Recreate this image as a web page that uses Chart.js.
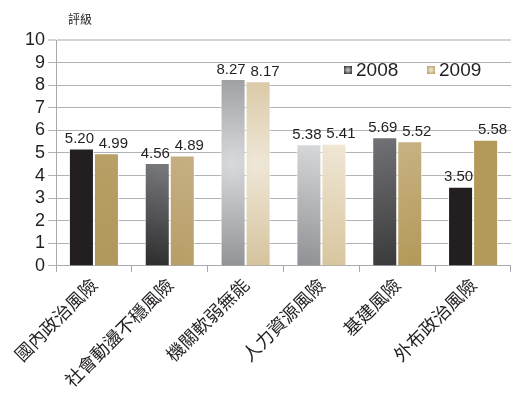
<!DOCTYPE html>
<html>
<head>
<meta charset="utf-8">
<script src="https://cdn.jsdelivr.net/npm/chart.js@4"></script>
<style>
  html, body { margin: 0; padding: 0; background: #fff; }
  #wrap { width: 511px; height: 393px; position: relative; }
</style>
</head>
<body>
<div id="wrap"><canvas id="riskChart" width="511" height="393"></canvas></div>
<script>
const categories = ['國內政治風險', '社會動盪不穩風險', '機關軟弱無能', '人力資源風險', '基建風險', '外布政治風險'];
const seriesNames = ['2008', '2009'];
const values2008 = [5.20, 4.56, 8.27, 5.38, 5.69, 3.50];
const values2009 = [4.99, 4.89, 8.17, 5.41, 5.52, 5.58];
const yTicks = [0, 1, 2, 3, 4, 5, 6, 7, 8, 9, 10];
const yTitle = '評級';

// bar fills, one per category
const fills2008 = [
    { solid: '#231f20' },
    { from: '#2c2c2d', to: '#7a7b7e' },
    { edge: '#8b8d90', center: '#d9dadc' },
    { from: '#8e9093', to: '#d8d9db' },
    { from: '#3a3a3c', to: '#717275', flip: true },
    { solid: '#231f20' }
];
const fills2009 = [
    { from: '#b0975a', to: '#b8a066' },
    { from: '#b79e67', to: '#c6b083' },
    { edge: '#d3c098', center: '#efe7d7' },
    { from: '#d8c59d', to: '#f0e7d6' },
    { from: '#b29958', to: '#c8b283', flip: true },
    { solid: '#b39a5a' }
];

const catPct = 0.66;
const cjk = "'Noto Sans CJK TC', 'Noto Sans CJK SC', sans-serif";
const latin = "'Liberation Sans', Arial, sans-serif";

const barFill = (c, fills) => {
    const spec = fills[c.dataIndex];
    if (spec.solid) return spec.solid;
    const fallback = spec.from || spec.edge;
    const chart = c.chart;
    const xs = chart.scales.x, ys = chart.scales.y;
    if (!xs || !ys || !isFinite(xs.left) || !isFinite(ys.top)) return fallback;
    const cw = (xs.right - xs.left) / categories.length * catPct;
    const cx = xs.getPixelForValue(c.dataIndex);
    const left = cx - cw / 2 + c.datasetIndex * cw / 2;
    const right = left + cw / 2;
    const top = ys.getPixelForValue(c.raw);
    const bottom = ys.getPixelForValue(0);
    if (!isFinite(left) || !isFinite(top)) return fallback;
    const g2 = chart.ctx;
    if (spec.edge) {
        const mx = (left + right) / 2, my = top + (bottom - top) * 0.45;
        const r = (bottom - top) * 0.6;
        const g = g2.createRadialGradient(mx, my, 0, mx, my, r);
        g.addColorStop(0, spec.center);
        g.addColorStop(1, spec.edge);
        return g;
    }
    const g = spec.flip
        ? g2.createLinearGradient(right, bottom, left, top)
        : g2.createLinearGradient(left, bottom, right, top);
    g.addColorStop(0, spec.from);
    g.addColorStop(1, spec.to);
    return g;
};

const extrasPlugin = {
    id: 'extras',
    afterDatasetsDraw(chart) {
        const ctx = chart.ctx;
        const shift = [-2, 7];
        ctx.save();
        ctx.fillStyle = '#231f20';
        ctx.font = '15px ' + latin;
        ctx.textAlign = 'center';
        ctx.textBaseline = 'bottom';
        chart.data.datasets.forEach((ds, di) => {
            chart.getDatasetMeta(di).data.forEach((bar, i) => {
                ctx.fillText(ds.data[i].toFixed(2), bar.x + shift[di], bar.y - 2);
            });
        });
        ctx.restore();
    },
    afterDraw(chart) {
        const ctx = chart.ctx;
        ctx.save();
        // axis title
        ctx.fillStyle = '#231f20';
        ctx.font = '12px ' + cjk;
        ctx.textAlign = 'center';
        ctx.textBaseline = 'middle';
        ctx.fillText(yTitle, 80, 19);
        // legend
        const legendX = [344, 427];
        const swatch = ['#231f20', '#b39a5a'];
        const light = ['#d0d0d0', '#f2ead8'];
        ctx.font = '19px ' + latin;
        ctx.textAlign = 'left';
        chart.data.datasets.forEach((ds, di) => {
            const x = legendX[di], y = 70;
            const g = ctx.createRadialGradient(x + 4, y, 0, x + 4, y, 5.5);
            g.addColorStop(0, light[di]);
            g.addColorStop(1, swatch[di]);
            ctx.fillStyle = g;
            ctx.fillRect(x, y - 4, 8, 8);
            ctx.fillStyle = '#231f20';
            ctx.fillText(ds.label, x + 12, y + 1);
        });
        ctx.restore();
    }
};

new Chart(document.getElementById('riskChart'), {
    type: 'bar',
    data: {
        labels: categories,
        datasets: [
            {
                label: seriesNames[0],
                data: values2008,
                backgroundColor: (c) => barFill(c, fills2008),
                borderColor: 'rgba(255,255,255,0.8)',
                borderWidth: 1,
                categoryPercentage: catPct,
                barPercentage: 1
            },
            {
                label: seriesNames[1],
                data: values2009,
                backgroundColor: (c) => barFill(c, fills2009),
                borderColor: 'rgba(255,255,255,0.8)',
                borderWidth: 1,
                categoryPercentage: catPct,
                barPercentage: 1
            }
        ]
    },
    options: {
        responsive: false,
        animation: false,
        layout: { padding: { top: 40, left: 22, right: 0, bottom: 0 } },
        plugins: {
            legend: { display: false },
            tooltip: { enabled: false }
        },
        scales: {
            x: {
                grid: { offset: true, drawOnChartArea: false, tickLength: 6, color: '#a7a9ac' },
                border: { color: '#a7a9ac', width: 1 },
                ticks: {
                    maxRotation: 45,
                    minRotation: 45,
                    color: '#231f20',
                    padding: 2,
                    font: { family: cjk, size: 18 }
                }
            },
            y: {
                min: 0,
                max: 10,
                afterBuildTicks: (scale) => { scale.ticks = yTicks.map(v => ({ value: v })); },
                grid: {
                    color: (c) => c.tick && c.tick.value === 10 ? '#d4d4d4' : '#b1b3b6',
                    lineWidth: (c) => c.tick && c.tick.value === 10 ? 2 : 1,
                    tickLength: 8
                },
                border: { color: '#a7a9ac', width: 1 },
                ticks: {
                    autoSkip: false,
                    color: '#231f20',
                    padding: 3,
                    font: { family: latin, size: 18 }
                }
            }
        }
    },
    plugins: [extrasPlugin]
});
</script>
</body>
</html>
